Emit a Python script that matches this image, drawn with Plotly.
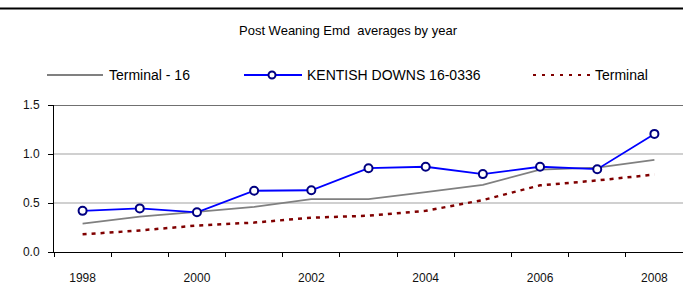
import plotly.graph_objects as go

years = [1998, 1999, 2000, 2001, 2002, 2003, 2004, 2005, 2006, 2007, 2008]
terminal_16 = [0.29, 0.36, 0.41, 0.46, 0.54, 0.54, 0.61, 0.685, 0.84, 0.86, 0.94]
kentish = [0.42, 0.445, 0.405, 0.625, 0.63, 0.855, 0.87, 0.795, 0.87, 0.845, 1.205]
terminal = [0.18, 0.22, 0.27, 0.30, 0.35, 0.37, 0.42, 0.53, 0.68, 0.73, 0.79]
x_tick_labels = ["1998", "2000", "2002", "2004", "2006", "2008"]
y_tick_vals = [0.0, 0.5, 1.0, 1.5]
title_text = "Post Weaning Emd  averages by year"
names = ["Terminal - 16", "KENTISH DOWNS 16-0336", "Terminal"]

FONT = "Liberation Sans, Arial, sans-serif"
W, H = 683, 307
ML, MR, MT, MB = 54, 0, 105, 55
PW, PH = W - ML - MR, H - MT - MB


def px(xp):
    return (xp - ML) / PW


def py(yp):
    return (H - MB - yp) / PH


fig = go.Figure()
fig.add_trace(go.Scatter(x=years, y=terminal_16, mode="lines", name=names[0],
                         line=dict(color="#808080", width=1.8), showlegend=False))
fig.add_trace(go.Scatter(x=years, y=kentish, mode="lines+markers", name=names[1],
                         line=dict(color="#0000FF", width=1.8),
                         marker=dict(symbol="circle", size=8, color="white",
                                     line=dict(color="#000080", width=2)),
                         showlegend=False))
fig.add_trace(go.Scatter(x=years, y=terminal, mode="lines", name=names[2],
                         line=dict(color="#800000", width=2.5, dash="4px,5px"),
                         showlegend=False))

shapes = []
annotations = []
# top border line of chart
shapes.append(dict(type="line", xref="paper", yref="paper", x0=px(0), x1=px(W),
                   y0=py(8.5), y1=py(8.5), line=dict(color="black", width=2)))
# top line of plot area at 1.5
shapes.append(dict(type="line", xref="paper", yref="y", x0=0, x1=1, y0=1.5, y1=1.5,
                   line=dict(color="#707070", width=2)))

# legend (manual)
LY = 75
LFS = 14
shapes.append(dict(type="line", xref="paper", yref="paper", x0=px(47), x1=px(103),
                   y0=py(LY), y1=py(LY), line=dict(color="#808080", width=1.8)))
annotations.append(dict(text=names[0], xref="paper", yref="paper", x=px(107), y=py(LY),
                        xanchor="left", yanchor="middle", showarrow=False,
                        font=dict(family=FONT, size=LFS, color="black")))
shapes.append(dict(type="line", xref="paper", yref="paper", x0=px(244), x1=px(302),
                   y0=py(LY), y1=py(LY), line=dict(color="#0000FF", width=1.8)))
shapes.append(dict(type="circle", xref="paper", yref="paper", x0=px(268.5), x1=px(275.5),
                   y0=py(LY + 3.5), y1=py(LY - 3.5), fillcolor="white",
                   line=dict(color="#000080", width=2)))
annotations.append(dict(text=names[1], xref="paper", yref="paper", x=px(305), y=py(LY),
                        xanchor="left", yanchor="middle", showarrow=False,
                        font=dict(family=FONT, size=LFS, color="black")))
shapes.append(dict(type="line", xref="paper", yref="paper", x0=px(533), x1=px(590),
                   y0=py(LY), y1=py(LY), line=dict(color="#800000", width=2, dash="3px,6px")))
annotations.append(dict(text=names[2], xref="paper", yref="paper", x=px(593), y=py(LY),
                        xanchor="left", yanchor="middle", showarrow=False,
                        font=dict(family=FONT, size=LFS, color="black")))

fig.update_layout(
    width=W, height=H,
    margin=dict(l=ML, r=MR, t=MT, b=MB, autoexpand=False),
    paper_bgcolor="white", plot_bgcolor="white",
    font=dict(family=FONT, size=12, color="#111111"),
    title=dict(text=title_text, x=348 / W, xanchor="center", y=1 - 30 / H, yanchor="middle",
               font=dict(family=FONT, size=13, color="black")),
    showlegend=False,
    shapes=shapes,
    annotations=annotations,
    xaxis=dict(range=[1997.5, 2008.5], tickmode="array",
               tickvals=[int(t) for t in x_tick_labels], ticktext=x_tick_labels,
               ticks="", showgrid=False, zeroline=False, automargin=False,
               showline=True, linecolor="black", linewidth=1,
               ticklabelstandoff=15,
               minor=dict(tick0=1997.5, dtick=1, ticks="outside", ticklen=4,
                          tickcolor="black", showgrid=False),
               tickfont=dict(family=FONT, size=12, color="#111111")),
    yaxis=dict(range=[0, 1.5], tickmode="array", tickvals=y_tick_vals, tickformat=".1f",
               ticks="outside", ticklen=5, tickcolor="black", automargin=False,
               showline=True, linecolor="black", linewidth=1,
               showgrid=True, gridcolor="#d0d0d0", gridwidth=1.5, zeroline=False,
               ticklabelstandoff=6,
               tickfont=dict(family=FONT, size=12, color="#111111")),
)

fig.write_html("out.html", config={"displayModeBar": False},
               post_script="document.body.style.margin='0';document.body.style.padding='0';")
